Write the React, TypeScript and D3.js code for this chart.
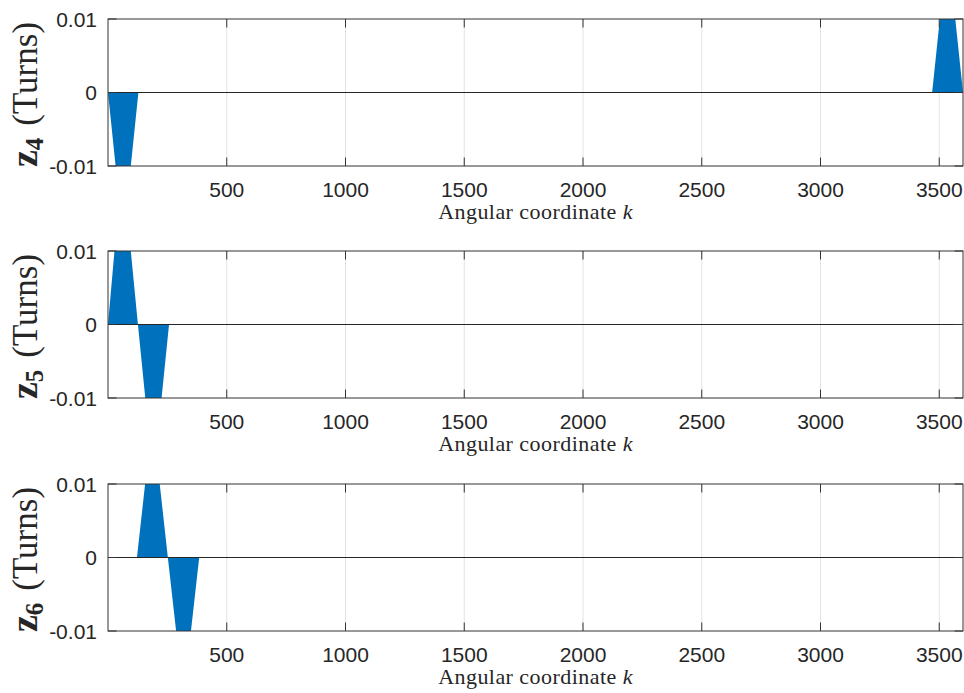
import React from "react";
import * as d3 from "d3";

// ---- data ----
const xTicks = [500, 1000, 1500, 2000, 2500, 3000, 3500];
const yTicks = [-0.01, 0, 0.01];
const yTickLabels = ["-0.01", "0", "0.01"];
const xDomain = [0, 3600];
const yDomain = [-0.01, 0.01];

const panelNames = ["4", "5", "6"];

const z4K = [0, 64, 128, 3470, 3535, 3600];
const z4V = [0, -0.02, 0, 0, 0.02, 0];

const z5K = [0, 60, 126, 191, 257, 3600];
const z5V = [0, 0.022, 0, -0.021, 0, 0];

const z6K = [0, 122, 187, 252, 318, 384, 3600];
const z6V = [0, 0, 0.019, 0, -0.019, 0, 0];

const seriesK = [z4K, z5K, z6K];
const seriesV = [z4V, z5V, z6V];

// ---- layout ----
const W = 964;
const H = 693;
const left = 108;
const right = 963;
const panelTops = [19, 251, 484];
const panelH = 147;

const AX = "#333333";
const GRID = "#e3e3e3";
const FILL = "#0072BD";

function Panel({ idx }: { idx: number }) {
  const top = panelTops[idx];
  const bottom = top + panelH;
  const x = d3.scaleLinear().domain(xDomain).range([left, right]);
  const y = d3.scaleLinear().domain(yDomain).range([bottom, top]);
  const pts = seriesK[idx].map((k, i) => [k, seriesV[idx][i]] as [number, number]);
  const area = d3
    .area<[number, number]>()
    .x((d) => x(d[0]))
    .y0(y(0))
    .y1((d) => y(d[1]));
  const clipId = `clip${idx}`;
  const tickLen = 8.5;
  const yMid = (top + bottom) / 2;
  return (
    <g>
      <defs>
        <clipPath id={clipId}>
          <rect x={left} y={top} width={right - left} height={bottom - top} />
        </clipPath>
      </defs>
      {xTicks.map((t) => (
        <line key={"g" + t} x1={x(t)} x2={x(t)} y1={top} y2={bottom} stroke={GRID} strokeWidth={1} />
      ))}
      <path d={area(pts) || ""} fill={FILL} clipPath={`url(#${clipId})`} />
      <line x1={left} x2={right} y1={y(0)} y2={y(0)} stroke="#262626" strokeWidth={1} />
      {xTicks.map((t) => (
        <g key={"t" + t}>
          <line x1={x(t)} x2={x(t)} y1={bottom} y2={bottom - tickLen} stroke={AX} strokeWidth={1} />
          <line x1={x(t)} x2={x(t)} y1={top} y2={top + tickLen} stroke={AX} strokeWidth={1} />
          <text
            x={x(t)}
            y={bottom + 30.5}
            textAnchor="middle"
            fontFamily="'Liberation Sans', Arial, sans-serif"
            fontSize={21}
            fill="#262626"
          >
            {t}
          </text>
        </g>
      ))}
      {yTicks.map((t, i) => (
        <g key={"y" + t}>
          <line x1={left} x2={left + tickLen} y1={y(t)} y2={y(t)} stroke={AX} strokeWidth={1} />
          <line x1={right} x2={right - tickLen} y1={y(t)} y2={y(t)} stroke={AX} strokeWidth={1} />
          <text
            x={left - 11}
            y={y(t) + 7.5}
            textAnchor="end"
            fontFamily="'Liberation Sans', Arial, sans-serif"
            fontSize={21}
            fill="#262626"
          >
            {yTickLabels[i]}
          </text>
        </g>
      ))}
      <rect x={left} y={top} width={right - left} height={bottom - top} fill="none" stroke={AX} strokeWidth={1} />
      <text
        x={535.5}
        y={bottom + 52.5}
        textAnchor="middle"
        fontFamily="'Liberation Serif', 'Times New Roman', serif"
        fontSize={22}
        letterSpacing={0.45}
        fill="#262626"
      >
        Angular coordinate <tspan fontStyle="italic">k</tspan>
      </text>
      <text
        transform={`translate(37,${yMid + 2}) rotate(-90)`}
        textAnchor="middle"
        fontFamily="'Liberation Serif', 'Times New Roman', serif"
        fontSize={35}
        fill="#262626"
      >
        <tspan fontWeight="bold" fontSize={38}>z</tspan>
        <tspan fontWeight="bold" fontSize={25} dy={6}>{panelNames[idx]}</tspan>
        <tspan dy={-6} dx={12}>(Turns)</tspan>
      </text>
    </g>
  );
}

export default function App() {
  return (
    <svg
      width={W}
      height={H}
      viewBox={`0 0 ${W} ${H}`}
      style={{ position: "absolute", left: 0, top: 0, background: "#ffffff" }}
    >
      <rect x={0} y={0} width={W} height={H} fill="#ffffff" />
      {[0, 1, 2].map((i) => (
        <Panel key={i} idx={i} />
      ))}
    </svg>
  );
}
